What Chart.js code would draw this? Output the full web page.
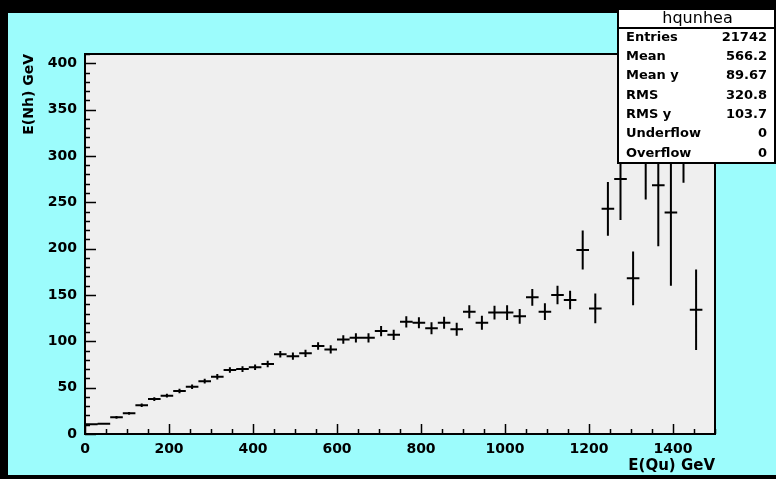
<!DOCTYPE html>
<html><head><meta charset="utf-8">
<script src="https://cdn.jsdelivr.net/npm/chart.js@4/dist/chart.umd.min.js"></script>
<style>html,body{margin:0;padding:0;background:#000;overflow:hidden}</style>
</head><body>
<canvas id="c" width="776" height="479"></canvas>
<script>
// ---- data (TProfile hqunhea: mean E(Nh) per E(Qu) bin) ----
const binCenters = [15,45,75,105,135,165,195,225,255,285,315,345,375,405,435,465,495,525,555,585,
  615,645,675,705,735,765,795,825,855,885,915,945,975,1005,1035,1065,1095,1125,1155,1185,
  1215,1245,1275,1305,1335,1365,1395,1425,1455,1485];
const binHalfWidth = 15;
const meanY = [10.5,11,18,22.3,31,37.7,41.3,46.4,51,57,61.8,69,70,72,75.5,86,84,87,95,91.3,
  102,103.8,103.8,111,107,121,120,114,120,113,132,120,131,131,127,147.5,132,150,144.5,198.5,
  135.5,243,275,168,310,268.5,239,330,134,null];
const errY = [1,1,1.5,1.5,2,2,2,2.5,2.5,2.5,3,3,3,3,3.5,3.5,4,4,4,4.5,
  4.5,5,5,5.5,5.5,6,6,6.5,6.5,7,7,7.5,7.5,8,8,9,9,10,10,21,
  16,29,44,29,57,66,79,59,43.5,null];
const xTickValues = [0,200,400,600,800,1000,1200,1400];
const yTickValues = [0,50,100,150,200,250,300,350,400];
const xTitle = 'E(Qu) GeV';
const yTitle = 'E(Nh) GeV';
const statsTitle = 'hqunhea';
const statsLabels = ['Entries','Mean','Mean y','RMS','RMS y','Underflow','Overflow'];
const statsValues = ['21742','566.2','89.67','320.8','103.7','0','0'];

const FONT = 'DejaVu Sans';
const CYAN = '#9cfcfc';
const PLOTBG = '#efefef';

const points = binCenters.map((c,i)=>({x:c, y:meanY[i], e:errY[i]})).filter(p=>p.y!==null);

const bgPlugin = {
  id:'bg',
  beforeDraw(chart){
    const {ctx, chartArea:a} = chart;
    ctx.save();
    ctx.fillStyle='#000'; ctx.fillRect(0,0,chart.width,chart.height);
    ctx.fillStyle=CYAN; ctx.fillRect(8,13,chart.width-8,462);
    ctx.fillStyle=PLOTBG; ctx.fillRect(a.left,a.top,a.right-a.left,a.bottom-a.top);
    ctx.restore();
  }
};

const errPlugin = {
  id:'errbars',
  afterDatasetsDraw(chart){
    const {ctx, chartArea:a, scales:{x,y}} = chart;
    const data = chart.data.datasets[0].data;
    ctx.save();
    ctx.beginPath(); ctx.rect(a.left,a.top,a.right-a.left,a.bottom-a.top); ctx.clip();
    ctx.strokeStyle='#000'; ctx.lineWidth=2; ctx.lineCap='butt';
    ctx.beginPath();
    data.forEach(p=>{
      const px=x.getPixelForValue(p.x), py=y.getPixelForValue(p.y);
      const xl=x.getPixelForValue(p.x-binHalfWidth), xr=x.getPixelForValue(p.x+binHalfWidth);
      const yt=y.getPixelForValue(p.y+p.e), yb=y.getPixelForValue(p.y-p.e);
      ctx.moveTo(xl,py); ctx.lineTo(xr,py);
      ctx.moveTo(px,yt); ctx.lineTo(px,yb);
    });
    ctx.stroke();
    ctx.restore();
  }
};

const framePlugin = {
  id:'frame',
  afterDraw(chart){
    const {ctx, chartArea:a, scales:{x,y}} = chart;
    ctx.save();
    ctx.strokeStyle='#000'; ctx.lineWidth=1.5;
    ctx.beginPath();
    for(let v=0; v<=1500; v+=50){
      const px=Math.round(x.getPixelForValue(v))+0.5;
      const len = (v%200===0)?10:5;
      ctx.moveTo(px,a.bottom); ctx.lineTo(px,a.bottom-len);
    }
    for(let v=0; v<=410; v+=10){
      const py=Math.round(y.getPixelForValue(v))+0.5;
      const len = (v%50===0)?11:5;
      ctx.moveTo(a.left,py); ctx.lineTo(a.left+len,py);
    }
    ctx.stroke();
    ctx.lineWidth=2;
    ctx.strokeRect(a.left,a.top,a.right-a.left,a.bottom-a.top);
    // stats box
    const bx=618, by=9, bw=157, bh=154;
    ctx.fillStyle='#fff'; ctx.fillRect(bx,by,bw,bh);
    ctx.strokeStyle='#000'; ctx.lineWidth=2; ctx.strokeRect(bx,by,bw,bh);
    ctx.beginPath(); ctx.moveTo(bx,28); ctx.lineTo(bx+bw,28); ctx.stroke();
    ctx.fillStyle='#000';
    ctx.font='16px "'+FONT+'"'; ctx.textAlign='center'; ctx.textBaseline='middle';
    ctx.fillText(statsTitle, bx+bw/2+1, 18.5);
    ctx.font='bold 13px "'+FONT+'"';
    statsLabels.forEach((l,i)=>{
      const yy = 37.5 + i*19.3;
      ctx.textAlign='left'; ctx.fillText(l, 626, yy);
      ctx.textAlign='right'; ctx.fillText(statsValues[i], 767, yy);
    });
    ctx.restore();
  }
};

new Chart(document.getElementById('c'), {
  type:'scatter',
  data:{datasets:[{data:points, pointRadius:0, pointHoverRadius:0, showLine:false, borderColor:'#000', backgroundColor:'#000'}]},
  options:{
    responsive:false, animation:false, devicePixelRatio:1,
    layout:{padding:{top:54,right:61,left:0,bottom:0}},
    plugins:{legend:{display:false}, tooltip:{enabled:false}},
    scales:{
      x:{type:'linear', min:0, max:1500,
        grid:{display:false, drawTicks:false}, border:{display:false},
        afterBuildTicks:(s)=>{ s.ticks = xTickValues.map(v=>({value:v})); },
        afterFit:(s)=>{ s.height=45; },
        ticks:{color:'#000', font:{family:FONT, weight:'bold', size:14}, padding:7, maxRotation:0, autoSkip:false,
          callback:(v)=>String(v)},
        title:{display:true, text:xTitle, align:'end', color:'#000', font:{family:FONT, weight:'bold', size:15}, padding:{top:0,bottom:4}}
      },
      y:{type:'linear', min:0, max:410,
        grid:{display:false, drawTicks:false}, border:{display:false},
        afterBuildTicks:(s)=>{ s.ticks = yTickValues.map(v=>({value:v})); },
        afterFit:(s)=>{ s.width=85; },
        ticks:{color:'#000', font:{family:FONT, weight:'bold', size:14}, padding:8, autoSkip:false,
          callback:(v)=>String(v)},
        title:{display:true, text:yTitle, align:'end', color:'#000', font:{family:FONT, weight:'bold', size:14}, padding:{top:21,bottom:0}}
      }
    }
  },
  plugins:[bgPlugin, errPlugin, framePlugin]
});
</script>
</body></html>
